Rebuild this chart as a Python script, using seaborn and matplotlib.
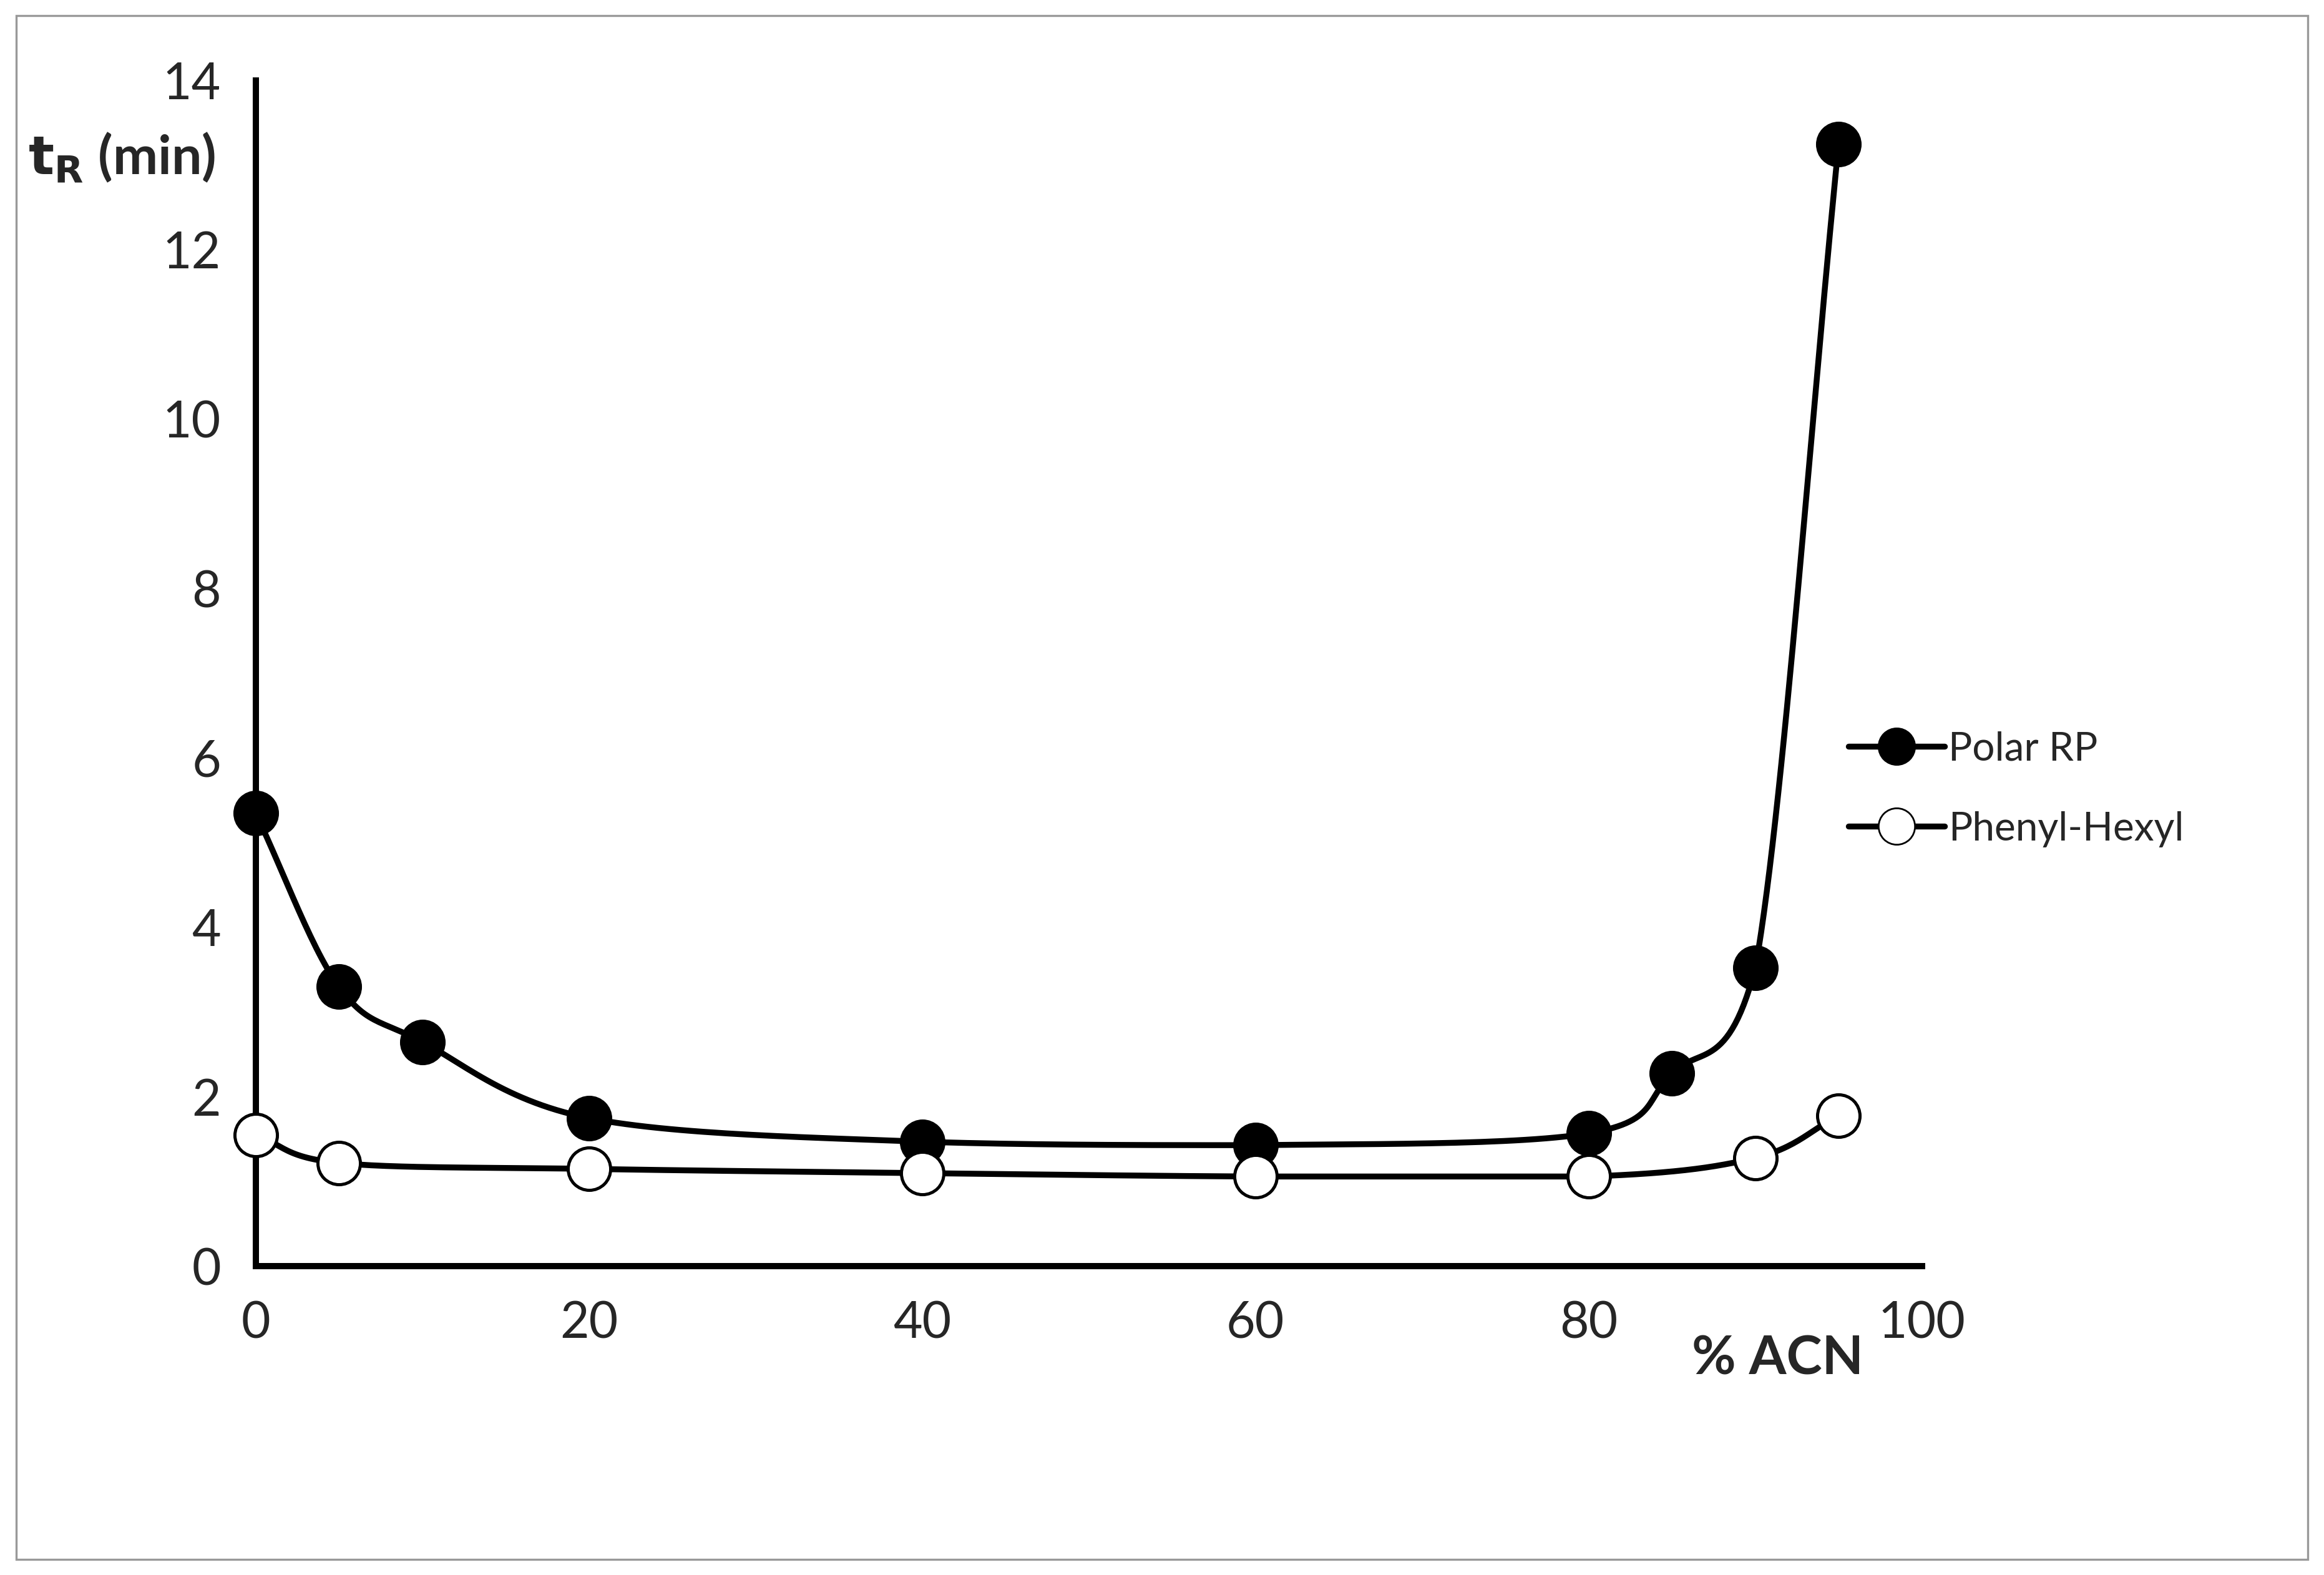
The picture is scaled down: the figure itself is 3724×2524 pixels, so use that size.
import numpy as np
import pandas as pd
import matplotlib
matplotlib.use("Agg")
import matplotlib.pyplot as plt
import seaborn as sns
from matplotlib.patches import Rectangle
from matplotlib.lines import Line2D

polar_x = [0, 5, 10, 20, 40, 60, 80, 85, 90, 95]
polar_y = [5.35, 3.3, 2.65, 1.75, 1.47, 1.43, 1.57, 2.28, 3.52, 13.25]
phenyl_x = [0, 5, 20, 40, 60, 80, 90, 95]
phenyl_y = [1.55, 1.22, 1.15, 1.1, 1.06, 1.06, 1.28, 1.78]
x_ticks = [0, 20, 40, 60, 80, 100]
y_ticks = [0, 2, 4, 6, 8, 10, 12, 14]

sns.set_theme(style="white")
plt.rcParams['font.family'] = ['Lato', 'DejaVu Sans']

def smooth(x, y, n=30):
    x = np.asarray(x, float); y = np.asarray(y, float)
    px = np.concatenate([[2*x[0]-x[1]], x, [2*x[-1]-x[-2]]])
    py = np.concatenate([[2*y[0]-y[1]], y, [2*y[-1]-y[-2]]])
    xs, ys = [], []
    t = np.linspace(0, 1, n)
    for i in range(1, len(px)-2):
        p0, p1, p2, p3 = [np.array([px[j], py[j]]) for j in (i-1, i, i+1, i+2)]
        m1 = (p2 - p0) / 6; m2 = (p3 - p1) / 6
        c1 = p1 + m1; c2 = p2 - m2
        lo, hi = min(p1[1], p2[1]), max(p1[1], p2[1])
        c1[1] = np.clip(c1[1], lo, hi); c2[1] = np.clip(c2[1], lo, hi)
        pts = ((1-t)**3)[:, None]*p1 + (3*(1-t)**2*t)[:, None]*c1 + (3*(1-t)*t**2)[:, None]*c2 + (t**3)[:, None]*p2
        xs.extend(pts[:, 0]); ys.extend(pts[:, 1])
    return np.array(xs), np.array(ys)

fig = plt.figure(figsize=(18.62, 12.62), dpi=200)
fig.patches.append(Rectangle((0.007, 0.01), 0.986, 0.98, transform=fig.transFigure,
                             fill=False, edgecolor='#999999', lw=1.2))
ax = fig.add_axes([0.110, 0.196, 0.717, 0.753])

for xs, ys, fc in [(polar_x, polar_y, 'black'), (phenyl_x, phenyl_y, 'white')]:
    sx, sy = smooth(xs, ys)
    ax.plot(sx, sy, color='black', lw=3.4, zorder=2)
    sns.scatterplot(x=xs, y=ys, ax=ax, s=600, color=fc, edgecolor='black', linewidth=1.8, zorder=3, legend=False)

ax.set_xlim(0, 100)
ax.set_ylim(0, 14)
ax.set_xticks(x_ticks)
ax.set_yticks(y_ticks)
ax.tick_params(axis='both', direction='out', length=10, width=3, labelsize=29, color='black', pad=10)
for s in ['top', 'right']:
    ax.spines[s].set_visible(False)
for s in ['left', 'bottom']:
    ax.spines[s].set_linewidth(3.6)
    ax.spines[s].set_color('black')
for c in ax.collections:
    c.set_clip_on(False)

fig.text(0.012, 0.9, r'$\mathbf{t_R}$ (min)', fontsize=31, fontweight='bold', ha='left', va='center')
fig.text(0.765, 0.137, '% ACN', fontsize=31, fontweight='bold', ha='center', va='center')

handles = [Line2D([0], [0], color='black', lw=3.4, marker='o', markersize=21, markerfacecolor='black', markeredgecolor='black'),
           Line2D([0], [0], color='black', lw=3.4, marker='o', markersize=21, markerfacecolor='white', markeredgecolor='black')]
fig.legend(handles, ['Polar RP', 'Phenyl-Hexyl'], loc='center left', bbox_to_anchor=(0.78, 0.499),
           frameon=False, fontsize=23, handlelength=2.4, handletextpad=0.1, labelspacing=1.1)

fig.savefig('out.png', dpi=200)
